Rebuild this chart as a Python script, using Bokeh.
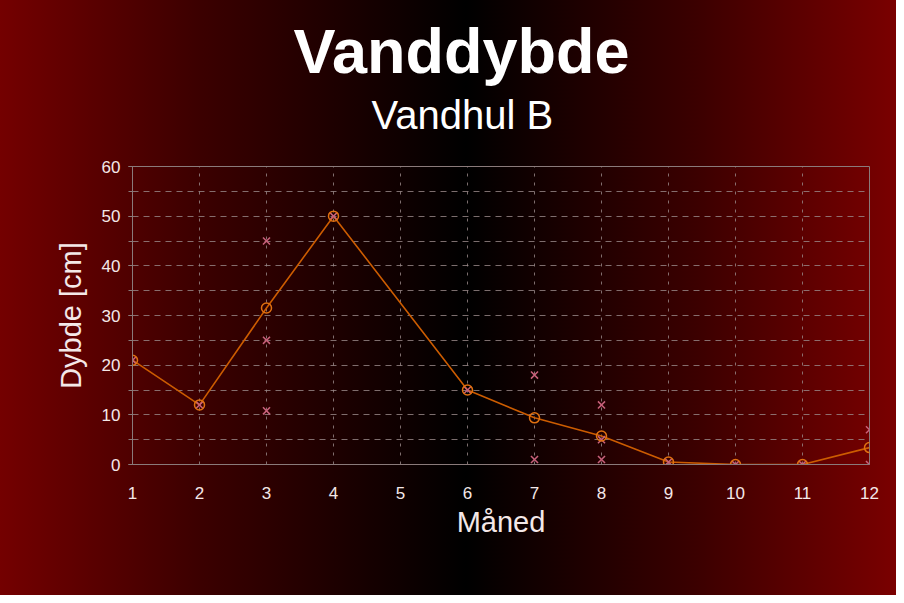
from bokeh.plotting import figure
from bokeh.models import Title, Range1d, FixedTicker, SingleIntervalTicker, InlineStyleSheet
from bokeh.embed import file_html
from bokeh.resources import INLINE

# Data
months = [1, 2, 3, 4, 6, 7, 8, 9, 10, 11, 12]
depth = [21, 12, 31.5, 50, 15, 9.4, 5.75, 0.5, 0, 0, 3.4]
meas_month = [1, 2, 3, 3, 3, 4, 6, 7, 7, 8, 8, 8, 9, 10, 11, 12, 12]
meas_depth = [21, 12, 45, 25, 10.8, 50, 15, 18, 1, 12, 5, 1, 0.5, 0, 0, 7, 0]
x_ticks = list(range(1, 13))
title_text = "Vanddybde"
subtitle_text = "Vandhul B"
x_label = "Måned"
y_label = "Dybde [cm]"

FONT = "Liberation Sans"
TXT = "#f4e8e8"

p = figure(width=896, height=595, output_backend="svg", toolbar_location=None,
           title=None, x_range=Range1d(1, 12), y_range=Range1d(0, 60),
           min_border_left=132, min_border_right=27, min_border_top=166,
           min_border_bottom=131)

css = ":host { background: linear-gradient(to right, #740000 0%, #3c0000 22%, #000000 52%, #3c0000 78%, #7a0000 100%); }"
p.stylesheets = [InlineStyleSheet(css=css)]
p.border_fill_color = None
p.background_fill_color = None
p.outline_line_color = "#8a7a7a"
p.outline_line_width = 1

sub = Title(text=subtitle_text, align="left", text_font=FONT, text_font_size="40px",
            text_font_style="normal", text_color="#ffffff", standoff=60, offset=239)
main = Title(text=title_text, align="left", text_font=FONT, text_font_size="63px",
             text_font_style="bold", text_color="#ffffff", standoff=-50, offset=161)
p.add_layout(sub, "above")
p.add_layout(main, "above")

# grids
p.xgrid.ticker = FixedTicker(ticks=x_ticks)
p.xgrid.grid_line_color = "#9a8a8a"
p.xgrid.grid_line_dash = "3 6"
p.xgrid.grid_line_alpha = 0.8
p.ygrid.ticker = SingleIntervalTicker(interval=5)
p.ygrid.grid_line_color = "#9a8a8a"
p.ygrid.grid_line_dash = "6 5"
p.ygrid.grid_line_alpha = 0.8

# axes
p.xaxis.ticker = FixedTicker(ticks=x_ticks)
p.xaxis.major_tick_line_color = None
p.xaxis.minor_tick_line_color = None
p.xaxis.axis_line_color = "#8a7a7a"
p.xaxis.major_label_standoff = 16
p.xaxis.axis_label = x_label
p.xaxis.axis_label_standoff = 4

p.yaxis.ticker = SingleIntervalTicker(interval=10, num_minor_ticks=2)
p.yaxis.major_tick_line_color = "#8a7a7a"
p.yaxis.minor_tick_line_color = "#8a7a7a"
p.yaxis.major_tick_out = 4
p.yaxis.major_tick_in = 0
p.yaxis.minor_tick_out = 4
p.yaxis.minor_tick_in = 0
p.yaxis.axis_line_color = "#8a7a7a"
p.yaxis.major_label_standoff = 8
p.yaxis.axis_label = y_label
p.yaxis.axis_label_standoff = 12

for ax in (p.xaxis, p.yaxis):
    ax.major_label_text_font = FONT
    ax.major_label_text_font_size = "17px"
    ax.major_label_text_color = TXT
    ax.axis_label_text_font = FONT
    ax.axis_label_text_font_size = "29px"
    ax.axis_label_text_font_style = "normal"
    ax.axis_label_text_color = TXT

# series
p.line(months, depth, line_color="#cc5c00", line_width=1.6)
p.scatter(meas_month, meas_depth, marker="x", size=10, line_color="#c8607a",
          line_width=1.5)
p.scatter(months, depth, marker="circle", size=10, line_color="#e07010",
          fill_color=None, line_width=1.5)

open("out.html", "w").write(file_html(p, INLINE))
